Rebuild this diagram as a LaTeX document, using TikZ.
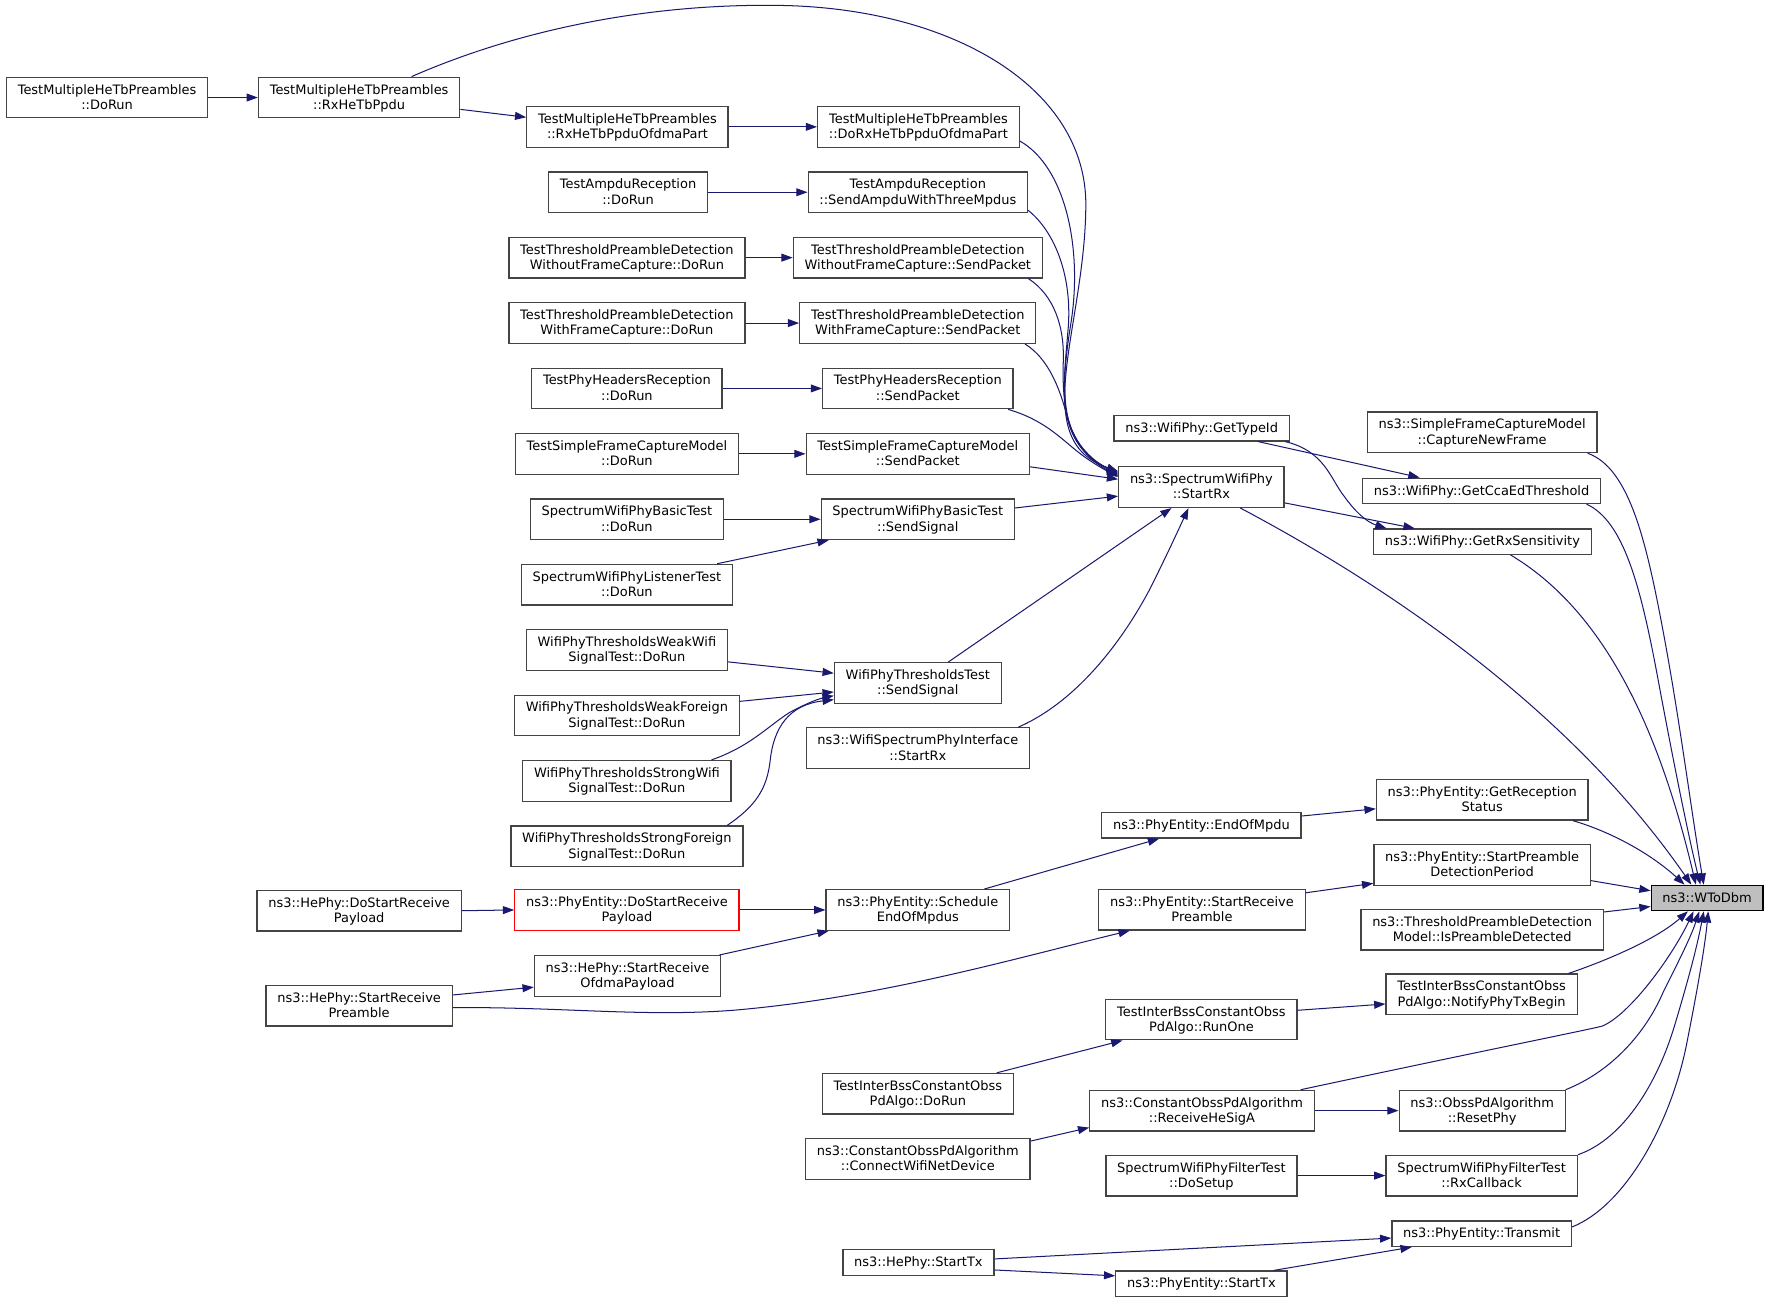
\documentclass[tikz,border=0pt]{standalone}
\usepackage{fontspec}
\newfontfamily\dvs{DejaVu Sans}
\usetikzlibrary{arrows.meta,calc}
\definecolor{edgeblue}{HTML}{191970}
\definecolor{boxgray}{HTML}{444444}
\definecolor{rootfill}{HTML}{BFBFBF}
\tikzset{
  fn/.style={draw=boxgray, line width=1.1pt, fill=white, align=center,
    font={\dvs\fontsize{11.5}{13.6}\selectfont}, inner xsep=10pt, inner ysep=0pt,
    text depth=1.3pt, minimum height=22.5pt},
  two/.style={minimum height=36pt},
  rootfn/.style={fn, fill=rootfill, draw=black},
  redfn/.style={fn, two, draw=red},
  edge/.style={draw=edgeblue, line width=0.9pt, -{Triangle[length=10pt,width=7pt]}}
}
\begin{document}
\begin{tikzpicture}[x=1pt,y=-1pt]
\useasboundingbox (0,0) rectangle (1568,1159);
\fill[white] (0,0) rectangle (1568,1159);
% column 1-2 left
\node[fn,two] (m1) at (95,86.5) {TestMultipleHeTbPreambles\\::DoRun};
\node[fn,two] (m2) at (318.5,86.5) {TestMultipleHeTbPreambles\\::RxHeTbPpdu};
\node[fn,two] (hdsrp) at (318.5,807.7) {ns3::HePhy::DoStartReceive\\Payload};
\node[fn,two] (hsrp) at (318.5,892) {ns3::HePhy::StartReceive\\Preamble};
% column 3
\node[fn,two] (m3) at (556.5,112.5) {TestMultipleHeTbPreambles\\::RxHeTbPpduOfdmaPart};
\node[fn,two] (a1) at (557,170.5) {TestAmpduReception\\::DoRun};
\node[fn,two] (wo1) at (556,228.5) {TestThresholdPreambleDetection\\WithoutFrameCapture::DoRun};
\node[fn,two] (wf1) at (556,286.5) {TestThresholdPreambleDetection\\WithFrameCapture::DoRun};
\node[fn,two] (ph1) at (556,344.5) {TestPhyHeadersReception\\::DoRun};
\node[fn,two] (sf1) at (556,402.5) {TestSimpleFrameCaptureModel\\::DoRun};
\node[fn,two] (bt1) at (556,460.5) {SpectrumWifiPhyBasicTest\\::DoRun};
\node[fn,two] (lt1) at (556,518.5) {SpectrumWifiPhyListenerTest\\::DoRun};
\node[fn,two] (ww) at (556,576.5) {WifiPhyThresholdsWeakWifi\\SignalTest::DoRun};
\node[fn,two] (wfo) at (556,634.5) {WifiPhyThresholdsWeakForeign\\SignalTest::DoRun};
\node[fn,two] (sw) at (556,692.5) {WifiPhyThresholdsStrongWifi\\SignalTest::DoRun};
\node[fn,two] (sfo) at (556,750.5) {WifiPhyThresholdsStrongForeign\\SignalTest::DoRun};
\node[redfn] (dsrp) at (556,807) {ns3::PhyEntity::DoStartReceive\\Payload};
\node[fn,two] (hsrop) at (556.5,865.5) {ns3::HePhy::StartReceive\\OfdmaPayload};
% column 4
\node[fn,two] (m4) at (814.5,112.5) {TestMultipleHeTbPreambles\\::DoRxHeTbPpduOfdmaPart};
\node[fn,two] (a2) at (814,170.5) {TestAmpduReception\\::SendAmpduWithThreeMpdus};
\node[fn,two] (wo2) at (814,228.5) {TestThresholdPreambleDetection\\WithoutFrameCapture::SendPacket};
\node[fn,two] (wf2) at (814,286.5) {TestThresholdPreambleDetection\\WithFrameCapture::SendPacket};
\node[fn,two] (ph2) at (814,344.5) {TestPhyHeadersReception\\::SendPacket};
\node[fn,two] (sf2) at (814,402.5) {TestSimpleFrameCaptureModel\\::SendPacket};
\node[fn,two] (bt2) at (814,460.5) {SpectrumWifiPhyBasicTest\\::SendSignal};
\node[fn,two] (tt) at (814,605.7) {WifiPhyThresholdsTest\\::SendSignal};
\node[fn,two] (wspi) at (814,663.5) {ns3::WifiSpectrumPhyInterface\\::StartRx};
\node[fn,two] (seom) at (814,807) {ns3::PhyEntity::Schedule\\EndOfMpdus};
\node[fn,two] (ido) at (814,970) {TestInterBssConstantObss\\PdAlgo::DoRun};
\node[fn,two] (cwn) at (814,1028) {ns3::ConstantObssPdAlgorithm\\::ConnectWifiNetDevice};
\node[fn] (hst) at (814.5,1119.7) {ns3::HePhy::StartTx};
% column 5
\node[fn] (gti) at (1065.7,379.8) {ns3::WifiPhy::GetTypeId};
\node[fn,two] (srx) at (1065.5,432) {ns3::SpectrumWifiPhy\\::StartRx};
\node[fn] (eom) at (1065.5,732) {ns3::PhyEntity::EndOfMpdu};
\node[fn,two] (psrp) at (1066,806.8) {ns3::PhyEntity::StartReceive\\Preamble};
\node[fn,two] (ro) at (1065.5,904.2) {TestInterBssConstantObss\\PdAlgo::RunOne};
\node[fn,two] (rhs) at (1066,985) {ns3::ConstantObssPdAlgorithm\\::ReceiveHeSigA};
\node[fn,two] (fds) at (1065.5,1042.6) {SpectrumWifiPhyFilterTest\\::DoSetup};
\node[fn] (pst) at (1065.5,1138.5) {ns3::PhyEntity::StartTx};
% column 6
\node[fn,two] (cnf) at (1314.5,383.4) {ns3::SimpleFrameCaptureModel\\::CaptureNewFrame};
\node[fn] (cca) at (1314,435.3) {ns3::WifiPhy::GetCcaEdThreshold};
\node[fn] (rxs) at (1314.7,480.4) {ns3::WifiPhy::GetRxSensitivity};
\node[fn,two] (grs) at (1314.5,709.3) {ns3::PhyEntity::GetReception\\Status};
\node[fn,two] (spd) at (1314.5,767) {ns3::PhyEntity::StartPreamble\\DetectionPeriod};
\node[fn,two] (tpd) at (1314.5,824.5) {ns3::ThresholdPreambleDetection\\Model::IsPreambleDetected};
\node[fn,two] (ntb) at (1314,881.9) {TestInterBssConstantObss\\PdAlgo::NotifyPhyTxBegin};
\node[fn,two] (rp) at (1314.5,985) {ns3::ObssPdAlgorithm\\::ResetPhy};
\node[fn,two] (frc) at (1314,1042.6) {SpectrumWifiPhyFilterTest\\::RxCallback};
\node[fn] (tr) at (1314,1094.2) {ns3::PhyEntity::Transmit};
% root
\node[rootfn] (wtd) at (1514,796.4) {ns3::WToDbm};

% ---- edges
\draw[edge] (m1.east) -- (m2.west);
\draw[edge] ($(m2.east)+(0,10.5)$) -- ($(m3.west)+(0,-8.5)$);
\draw[edge] (m3.east) -- (m4.west);
\draw[edge] (a1.east) -- (a2.west);
\draw[edge] (wo1.east) -- (wo2.west);
\draw[edge] (wf1.east) -- (wf2.west);
\draw[edge] (ph1.east) -- (ph2.west);
\draw[edge] (sf1.east) -- (sf2.west);
\draw[edge] (bt1.east) -- (bt2.west);
\draw[edge] ($(lt1.north)+(80,0)$) -- ($(bt2.south)+(-79,0)$);
\draw[edge] ($(ww.east)+(0,10.5)$) -- ($(tt.west)+(0,-8.7)$);
\draw[edge] ($(wfo.east)+(0,-12.5)$) -- ($(tt.west)+(0,8)$);
\draw[edge] ($(sw.north)+(75,0)$) .. controls (665,662) and (680,645) .. (700,632)
   .. controls (715,624) and (725,620) .. ($(tt.west)+(0,11.3)$);
\draw[edge] ($(sfo.north)+(89,0)$) .. controls (670,715) and (680,700) .. (683,675)
   .. controls (686,645) and (700,625) .. ($(tt.west)+(0,14.8)$);
% into SpectrumWifiPhy::StartRx
\draw[edge] ($(m2.north)+(46.5,0)$) .. controls (470,22) and (590,2) .. (700,5)
   .. controls (850,10) and (962,80) .. (963,180)
   .. controls (963,290) and (910,390) .. ($(srx.west)+(0,-14)$);
\draw[edge] ($(m4.east)+(0,12.5)$) .. controls (945,148) and (960,220) .. (950,285)
   .. controls (942,335) and (935,395) .. ($(srx.west)+(0,-13)$);
\draw[edge] ($(a2.east)+(0,16)$) .. controls (935,205) and (952,245) .. (947,295)
   .. controls (943,345) and (935,392) .. ($(srx.west)+(0,-12)$);
\draw[edge] ($(wo2.south)+(98,0)$) .. controls (935,262) and (944,290) .. (943,320)
   .. controls (942,360) and (945,395) .. ($(srx.west)+(0,-11)$);
\draw[edge] ($(wf2.south)+(95,0)$) .. controls (930,318) and (940,345) .. (946,368)
   .. controls (952,392) and (965,408) .. ($(srx.west)+(0,-10)$);
\draw[edge] ($(ph2.south)+(80,0)$) .. controls (925,372) and (940,388) .. (955,400)
   .. controls (965,408) and (975,414) .. ($(srx.west)+(0,-9)$);
\draw[edge] ($(sf2.east)+(0,11.5)$) -- ($(srx.west)+(0,-7)$);
\draw[edge] ($(bt2.east)+(0,-10)$) -- ($(srx.west)+(0,8)$);
\draw[edge] ($(tt.north)+(27,0)$) -- ($(srx.south)+(-26.5,0)$);
\draw[edge] ($(wspi.north)+(89,0)$) .. controls (960,620) and (1000,560) .. (1020,522)
   .. controls (1035,492) and (1046,468) .. ($(srx.south)+(-11.5,0)$);
% GetTypeId / StartRx
\draw[edge] ($(gti.south)+(50,0)$) -- ($(cca.north)+(-55,0)$);
\draw[edge] ($(gti.south)+(74,0)$) .. controls (1175,400) and (1180,425) .. (1192,440)
   .. controls (1202,454) and (1212,463) .. ($(rxs.north)+(-85,0)$);
\draw[edge] ($(srx.east)+(0,14)$) -- ($(rxs.north)+(-60,0)$);
% into WToDbm from top
\draw[edge] ($(srx.south)+(34.5,0)$) .. controls (1250,530) and (1400,640) .. ($(wtd.north)+(-14,0)$);
\draw[edge] ($(cnf.south)+(93.5,0)$) .. controls (1445,415) and (1460,480) .. (1475,560)
   .. controls (1490,640) and (1500,720) .. ($(wtd.north)+(-3,0)$);
\draw[edge] ($(cca.south)+(93,0)$) .. controls (1440,462) and (1455,520) .. (1470,600)
   .. controls (1483,670) and (1497,740) .. ($(wtd.north)+(-6,0)$);
\draw[edge] ($(rxs.south)+(25,0)$) .. controls (1420,540) and (1470,640) .. ($(wtd.north)+(-10,0)$);
\draw[edge] ($(grs.south)+(80.5,0)$) .. controls (1430,738) and (1465,758) .. ($(wtd.north)+(-20,0)$);
% middle
\draw[edge] ($(eom.east)+(0,-8.3)$) -- ($(grs.west)+(0,8)$);
\draw[edge] ($(seom.north)+(59,0)$) -- ($(eom.south)+(-37.5,0)$);
\draw[edge] (hdsrp.east) -- (dsrp.west);
\draw[edge] (dsrp.east) -- (seom.west);
\draw[edge] ($(hsrop.north)+(81.5,0)$) -- ($(seom.south)+(-79,0)$);
\draw[edge] ($(hsrp.east)+(0,-9.6)$) -- ($(hsrop.west)+(0,10)$);
\draw[edge] ($(hsrp.east)+(0,1.6)$) .. controls (500,893) and (570,902) .. (650,896)
   .. controls (780,885) and (900,850) .. ($(psrp.south)+(-64,0)$);
\draw[edge] ($(psrp.east)+(0,-15)$) -- ($(spd.west)+(0,16.4)$);
\draw[edge] ($(spd.east)+(0,14)$) -- ($(wtd.west)+(0,-6.4)$);
\draw[edge] ($(tpd.east)+(0,-15.7)$) -- ($(wtd.west)+(0,7.6)$);
% into WToDbm from bottom
\draw[edge] ($(ntb.north)+(77,0)$) .. controls (1430,850) and (1470,832) .. ($(wtd.south)+(-17,0)$);
\draw[edge] ($(ro.east)+(0,-8.2)$) -- ($(ntb.west)+(0,8.5)$);
\draw[edge] ($(ido.north)+(70,0)$) -- ($(ro.south)+(-70,0)$);
\draw[edge] ($(rhs.north)+(87.5,0)$) .. controls (1300,935) and (1410,913) .. (1421,910)
   .. controls (1445,900) and (1482,850) .. ($(wtd.south)+(-12,0)$);
\draw[edge] (rhs.east) -- (rp.west);
\draw[edge] ($(rp.north)+(74,0)$) .. controls (1430,950) and (1460,915) .. (1475,880)
   .. controls (1490,850) and (1500,830) .. ($(wtd.south)+(-7,0)$);
\draw[edge] ($(cwn.east)+(0,-16)$) -- ($(rhs.west)+(0,15)$);
\draw[edge] (fds.east) -- (frc.west);
\draw[edge] ($(frc.north)+(85.5,0)$) .. controls (1440,1010) and (1470,960) .. (1485,910)
   .. controls (1497,870) and (1505,840) .. ($(wtd.south)+(-3,0)$);
\draw[edge] ($(tr.east)+(0,-6)$) .. controls (1440,1070) and (1480,1000) .. (1495,930)
   .. controls (1505,880) and (1512,840) .. ($(wtd.south)+(1,0)$);
\draw[edge] ($(hst.east)+(0,-3.2)$) -- ($(tr.west)+(0,3.8)$);
\draw[edge] ($(hst.east)+(0,6.6)$) -- ($(pst.west)+(0,-7)$);
\draw[edge] ($(pst.north)+(64,0)$) -- ($(tr.south)+(-62,0)$);
\end{tikzpicture}
\end{document}
